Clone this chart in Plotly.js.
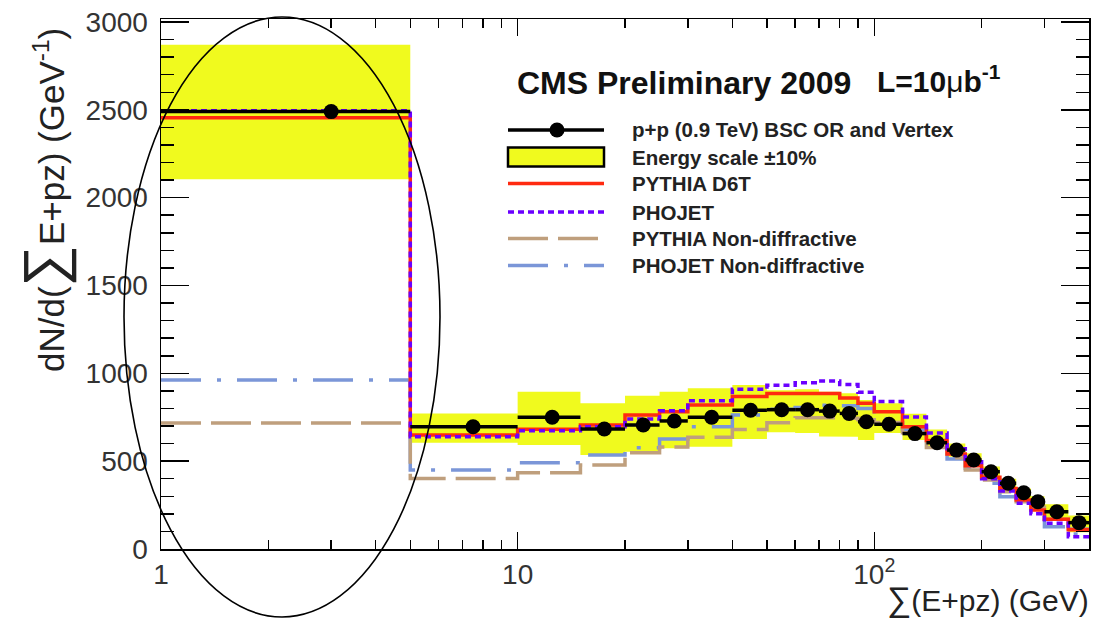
<!DOCTYPE html>
<html><head><meta charset="utf-8">
<script src="https://cdn.plot.ly/plotly-3.0.1.min.js"></script>
<style>html,body{margin:0;padding:0;background:#fff}#chart{width:1094px;height:621px}</style>
</head><body><div id="chart"></div>
<script>
// ---- data ----
const binEdges = [1,5,10,15,20,25,30,40,50,60,70,80,90,100,120,140,160,180,200,225,250,275,300,350,400];
const dataCounts = [2490,696,750,683,706,729,750,790,793,793,785,772,724,710,657,605,563,507,440,374,320,269,212,150];
const pythiaD6T  = [2455,649,681,706,763,782,820,868,885,885,885,860,829,781,696,618,541,474,408,345,279,222,170,110];
const phojet     = [2495,639,673,696,740,787,844,910,932,946,957,936,892,840,752,660,570,497,400,330,260,200,146,70];
const pythiaND   = [717,402,434,478,548,580,636,680,718,747,747,744,736,720,662,578,520,450,393,326,269,237,170,115];
const phojetND   = [962,450,491,535,577,626,696,763,795,805,818,815,800,740,677,592,512,459,374,298,260,203,127,85];
const bandLow    = [2105,605,592,535,554,573,582,626,665,660,640,639,620,660,620,570,525,470,410,345,285,235,175,95];
const bandHigh   = [2870,772,895,829,873,895,915,933,904,910,895,886,848,830,770,680,600,545,470,400,345,300,255,190];
const xTickVals = [1,10,100];
const xTickText = ['1','10','10<sup>2</sup>'];
const xMinorVals = [2,3,4,5,6,7,8,9,20,30,40,50,60,70,80,90,200,300];
const yTickVals = [0,500,1000,1500,2000,2500,3000];
const legendNames = ['p+p (0.9 TeV) BSC OR and Vertex','Energy scale \u00b110%','PYTHIA D6T','PHOJET','PYTHIA Non-diffractive','PHOJET Non-diffractive'];

// ---- styles ----
const FONT = 'Liberation Sans, Arial, Helvetica, sans-serif';
const C_BAND = '#f0fa1e', C_RED = '#ff2a10', C_PUR = '#6a00ff', C_TAN = '#bf9f7d', C_BLUE = '#7b96d8';
const D_PUR = '6px,4px', D_TAN = '40px,10px', D_BLUE = '40px,16px,4px,16px';

function stepTrace(vals, color, dash, name) {
  return {type:'scatter', mode:'lines', name:name, x: binEdges.slice(), y: vals.concat([vals[vals.length-1]]),
    line:{shape:'hv', color:color, width:3.5, dash:dash}, hoverinfo:'skip'};
}

// band polygon
const bx = [], by = [];
for (let i = 0; i < bandHigh.length; i++) { bx.push(binEdges[i], binEdges[i+1]); by.push(bandHigh[i], bandHigh[i]); }
for (let i = bandLow.length - 1; i >= 0; i--) { bx.push(binEdges[i+1], binEdges[i]); by.push(bandLow[i], bandLow[i]); }
const band = {type:'scatter', mode:'lines', name:legendNames[1], x:bx, y:by, fill:'toself', fillcolor:C_BAND,
  line:{width:0, color:C_BAND}, hoverinfo:'skip'};

const centers = [], ePlus = [], eMinus = [];
for (let i = 0; i < dataCounts.length; i++) {
  const c = (binEdges[i] + binEdges[i+1]) / 2;
  centers.push(c); ePlus.push(binEdges[i+1] - c); eMinus.push(c - binEdges[i]);
}
const dataTrace = {type:'scatter', mode:'markers', name:legendNames[0], x:centers, y:dataCounts,
  marker:{color:'black', size:15},
  error_x:{type:'data', symmetric:false, array:ePlus, arrayminus:eMinus, thickness:3.5, width:0, color:'black'}};

const traces = [band,
  stepTrace(phojetND, C_BLUE, D_BLUE, legendNames[5]),
  stepTrace(pythiaND, C_TAN, D_TAN, legendNames[4]),
  stepTrace(pythiaD6T, C_RED, 'solid', legendNames[2]),
  stepTrace(phojet, C_PUR, D_PUR, legendNames[3]),
  dataTrace];

// ---- layout helpers (pixel -> paper) ----
const L = 161, R = 1089, T = 19, B = 549;
const px = v => (v - L) / (R - L);
const py = v => (B - v) / (B - T);

const shapes = [
  // ellipse annotation
  {type:'circle', xref:'paper', yref:'paper', x0:px(124), x1:px(440), y0:py(617), y1:py(17), line:{color:'black', width:1.6}, layer:'above'}
];
const annotations = [];
const lx0 = px(508), lx1 = px(604), ltx = px(630);
const rows = [130, 157, 183.5, 212, 238.5, 265.5];
// legend symbols
shapes.push({type:'line', xref:'paper', yref:'paper', x0:lx0, x1:lx1, y0:py(rows[0]), y1:py(rows[0]), line:{color:'black', width:3.5}});
shapes.push({type:'circle', xref:'paper', yref:'paper', xsizemode:'pixel', ysizemode:'pixel', xanchor:px(557), yanchor:py(rows[0]),
  x0:-7.5, x1:7.5, y0:-7.5, y1:7.5, fillcolor:'black', line:{color:'black', width:0}});
shapes.push({type:'rect', xref:'paper', yref:'paper', x0:lx0, x1:lx1, y0:py(166.5), y1:py(147.5), fillcolor:C_BAND, line:{color:'black', width:2.5}});
shapes.push({type:'line', xref:'paper', yref:'paper', x0:lx0, x1:lx1, y0:py(rows[2]), y1:py(rows[2]), line:{color:C_RED, width:3.5}});
shapes.push({type:'line', xref:'paper', yref:'paper', x0:lx0, x1:lx1, y0:py(rows[3]), y1:py(rows[3]), line:{color:C_PUR, width:3.5, dash:D_PUR}});
shapes.push({type:'line', xref:'paper', yref:'paper', x0:lx0, x1:lx1, y0:py(rows[4]), y1:py(rows[4]), line:{color:C_TAN, width:3.5, dash:D_TAN}});
shapes.push({type:'line', xref:'paper', yref:'paper', x0:lx0, x1:lx1, y0:py(rows[5]), y1:py(rows[5]), line:{color:C_BLUE, width:3.5, dash:D_BLUE}});
legendNames.forEach((n, i) => annotations.push({xref:'paper', yref:'paper', x:ltx, y:py(rows[i]), xanchor:'left', yanchor:'middle',
  text:'<b>' + n + '</b>', showarrow:false, font:{family:FONT, size:20.5, color:'#222'}}));

annotations.push({xref:'paper', yref:'paper', x:px(515), y:py(83), xanchor:'left', yanchor:'middle', showarrow:false,
  text:'<b>CMS Preliminary 2009</b>', font:{family:FONT, size:32, color:'#111'}});
annotations.push({xref:'paper', yref:'paper', x:px(875), y:py(79), xanchor:'left', yanchor:'middle', showarrow:false,
  text:'<b>L=10</b>\u03bc<b>b<sup>-1</sup></b>', font:{family:FONT, size:30, color:'#111'}});
// axis titles
annotations.push({xref:'paper', yref:'paper', x:px(44), y:py(200), xanchor:'center', yanchor:'middle', textangle:-90, showarrow:false,
  text:'dN/d(<span style="font-size:58px">\u2211</span>E+pz) (GeV<sup>-1</sup>)', font:{family:FONT, size:35, color:'#222'}});
annotations.push({xref:'paper', yref:'paper', x:px(1091), y:py(621), xanchor:'right', yanchor:'bottom', showarrow:false,
  text:'<span style="font-size:34px">\u2211</span>(E+pz) (GeV)', font:{family:FONT, size:30, color:'#222'}});

const axCommon = {showline:true, linecolor:'black', linewidth:1.5, mirror:'ticks', ticks:'inside', tickcolor:'black', tickwidth:1.5,
  showgrid:false, zeroline:false, tickfont:{family:FONT, size:28, color:'#333'}};

const layout = {
  width:1094, height:621, margin:{l:L, r:1094-R, t:T, b:621-B, pad:0},
  paper_bgcolor:'white', plot_bgcolor:'white', showlegend:false,
  font:{family:FONT},
  xaxis: Object.assign({}, axCommon, {type:'log', range:[0, Math.log10(400)], tickmode:'array', tickvals:xTickVals, ticktext:xTickText,
    ticklen:17, minor:{tickmode:'array', tickvals:xMinorVals, ticks:'inside', ticklen:9, tickwidth:1.5, tickcolor:'black'}}),
  yaxis: Object.assign({}, axCommon, {range:[0, 3017], tickmode:'array', tickvals:yTickVals, ticklen:28, ticklabelstandoff:6,
    minor:{dtick:100, ticks:'inside', ticklen:13, tickwidth:1.5, tickcolor:'black'}}),
  shapes: shapes, annotations: annotations
};
Plotly.newPlot('chart', traces, layout, {staticPlot:true, displayModeBar:false});
</script></body></html>
